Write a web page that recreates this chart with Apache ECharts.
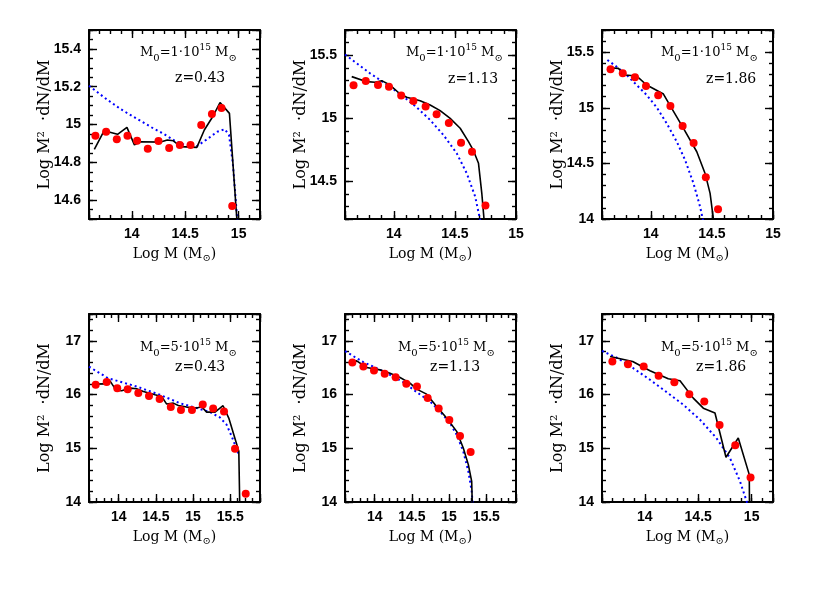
<!DOCTYPE html>
<html><head><meta charset="utf-8">
<script src="https://cdn.jsdelivr.net/npm/echarts@6/dist/echarts.min.js"></script>
<style>html,body{margin:0;padding:0;background:#fff}#c{width:817px;height:599px}</style>
</head><body><div id="c"></div>
<script>
// ---------- DATA ----------
// tick labels
const xTicksShort = [14, 14.5, 15];
const xTicksLong = [14, 14.5, 15, 15.5];
const yTicksP1 = [14.6, 14.8, 15, 15.2, 15.4];
const yTicksP2 = [14.5, 15, 15.5];
const yTicksP3 = [14, 14.5, 15, 15.5];
const yTicksBottom = [14, 15, 16, 17];

// Panel 1: M0=1e15, z=0.43
const p1PtsX = [13.66,13.76,13.86,13.96,14.05,14.15,14.25,14.35,14.45,14.55,14.65,14.75,14.84,14.94];
const p1PtsY = [14.941,14.962,14.922,14.941,14.914,14.872,14.913,14.876,14.892,14.892,14.997,15.056,15.087,14.569];
const p1LineX = [13.65,13.742,13.867,13.955,14.025,14.081,14.27,14.333,14.389,14.458,14.609,14.679,14.757,14.826,14.914,14.984];
const p1LineY = [14.869,14.967,14.948,14.985,14.892,14.909,14.907,14.918,14.914,14.883,14.879,14.971,15.041,15.116,15.059,14.495];
const p1FitX = [13.6,13.75,13.9,14.05,14.2,14.3,14.4,14.5,14.6,14.7,14.8,14.87,14.91,14.945,14.968,14.987];
const p1FitY = [15.205,15.14,15.08,15.03,14.98,14.95,14.915,14.89,14.882,14.92,14.962,14.975,14.945,14.8,14.636,14.495];

// Panel 2: M0=1e15, z=1.13
const p2PtsX = [13.67,13.77,13.87,13.96,14.06,14.16,14.26,14.35,14.45,14.55,14.64,14.75];
const p2PtsY = [15.261,15.295,15.263,15.25,15.181,15.136,15.092,15.031,14.962,14.806,14.734,14.308];
const p2LineX = [13.655,13.778,13.846,13.9,13.969,14.051,14.105,14.215,14.297,14.379,14.461,14.543,14.611,14.652,14.693,14.72,14.739];
const p2LineY = [15.33,15.29,15.285,15.298,15.263,15.192,15.166,15.139,15.105,15.06,14.999,14.92,14.814,14.742,14.642,14.404,14.19];
const p2FitX = [13.6,13.805,13.969,14.078,14.187,14.297,14.406,14.515,14.597,14.666,14.707];
const p2FitY = [15.505,15.356,15.25,15.171,15.086,14.986,14.867,14.721,14.562,14.377,14.19];

// Panel 3: M0=1e15, z=1.86
const p3PtsX = [13.67,13.77,13.87,13.96,14.06,14.16,14.26,14.35,14.45,14.55];
const p3PtsY = [15.346,15.31,15.274,15.196,15.112,15.016,14.836,14.683,14.375,14.087];
const p3LineX = [13.655,13.734,13.789,13.884,13.966,14.103,14.171,14.267,14.376,14.444,14.485,14.513];
const p3LineY = [15.36,15.355,15.295,15.286,15.205,15.124,14.995,14.815,14.605,14.41,14.23,13.99];
const p3FitX = [13.644,13.72,13.802,13.884,13.966,14.048,14.13,14.212,14.28,14.349,14.403,14.427];
const p3FitY = [15.43,15.37,15.295,15.205,15.115,15.004,14.86,14.696,14.531,14.321,14.111,13.99];

// Panel 4: M0=5e15, z=0.43
const p4PtsX = [13.69,13.838,13.98,14.12,14.263,14.407,14.55,14.70,14.837,14.985,15.13,15.27,15.416,15.564,15.708];
const p4PtsY = [16.182,16.232,16.12,16.10,16.027,15.972,15.916,15.768,15.712,15.712,15.816,15.742,15.686,14.993,14.153];
const p4LineX = [13.649,13.815,13.882,13.963,14.039,14.151,14.241,14.331,14.488,14.577,14.645,14.734,14.801,14.914,15.048,15.115,15.182,15.295,15.403,15.48,15.615,15.628];
const p4LineY = [16.194,16.2,16.256,16.083,16.07,16.12,16.107,16.058,15.996,15.965,15.823,15.841,15.798,15.767,15.749,15.773,15.674,15.674,15.792,15.563,14.944,13.9];
const p4FitX = [13.6,13.856,14.241,14.552,14.82,15.048,15.227,15.36,15.45,15.52,15.58,15.61];
const p4FitY = [16.52,16.305,16.15,15.996,15.841,15.749,15.674,15.575,15.44,15.22,15.006,14.9];

// Panel 5: M0=5e15, z=1.13
const p5PtsX = [13.699,13.847,13.99,14.134,14.281,14.425,14.568,14.712,14.86,15.003,15.147,15.29];
const p5PtsY = [16.596,16.522,16.448,16.386,16.324,16.2,16.151,15.934,15.742,15.526,15.229,14.932];
const p5LineX = [13.667,13.757,13.891,14.071,14.205,14.34,14.474,14.564,14.698,14.833,14.967,15.102,15.191,15.259,15.304,15.313];
const p5LineY = [16.615,16.627,16.504,16.46,16.398,16.318,16.213,16.101,16.008,15.779,15.563,15.315,15.005,14.696,14.384,13.9];
const p5FitX = [13.6,13.847,14.026,14.205,14.385,14.564,14.743,14.878,15.012,15.102,15.191,15.259,15.304,15.317];
const p5FitY = [16.81,16.603,16.491,16.368,16.232,16.046,15.872,15.687,15.47,15.253,14.944,14.573,14.2,13.96];

// Panel 6: M0=5e15, z=1.86
const p6PtsX = [13.697,13.843,13.99,14.13,14.277,14.417,14.557,14.70,14.847,14.99];
const p6PtsY = [16.615,16.566,16.522,16.349,16.231,16.008,15.872,15.433,15.055,14.455];
const p6LineX = [13.675,13.887,14.049,14.22,14.33,14.454,14.548,14.657,14.76,14.875,14.978,14.98];
const p6LineY = [16.708,16.615,16.442,16.293,16.256,15.934,15.747,15.656,14.833,15.192,14.51,13.9];
const p6FitX = [13.6,13.737,13.893,14.049,14.205,14.361,14.517,14.67,14.797,14.891,14.953,14.97];
const p6FitY = [16.813,16.689,16.491,16.275,16.046,15.81,15.532,15.192,14.82,14.387,14.015,13.9];

// annotation texts
const massLabels = ['1', '1', '1', '5', '5', '5'];
const zLabels = ['0.43', '1.13', '1.86', '0.43', '1.13', '1.86'];

// ---------- LAYOUT / STYLE ----------
const NUMFONT = 'Liberation Sans';
const TXTFONT = 'DejaVu Serif';
const zip = (a, b) => a.map((v, i) => [v, b[i]]);
const panels = [
  {grid: {left: 89, top: 30, width: 171, height: 189}, x: [13.6, 15.2], y: [14.5, 15.5], xt: xTicksShort, yt: yTicksP1, xM: 0.5, yM: 0.2, xm: 0.1, ym: 0.05,
   pts: [p1PtsX, p1PtsY], line: [p1LineX, p1LineY], fit: [p1FitX, p1FitY], ann: [[140, 53], [175, 78]]},
  {grid: {left: 345, top: 30, width: 171, height: 189}, x: [13.6, 15.0], y: [14.2, 15.7], xt: xTicksShort, yt: yTicksP2, xM: 0.5, yM: 0.5, xm: 0.1, ym: 0.1,
   pts: [p2PtsX, p2PtsY], line: [p2LineX, p2LineY], fit: [p2FitX, p2FitY], ann: [[406, 53], [448, 79]]},
  {grid: {left: 602, top: 30, width: 171, height: 189}, x: [13.6, 15.0], y: [14.0, 15.7], xt: xTicksShort, yt: yTicksP3, xM: 0.5, yM: 0.5, xm: 0.1, ym: 0.1,
   pts: [p3PtsX, p3PtsY], line: [p3LineX, p3LineY], fit: [p3FitX, p3FitY], ann: [[661, 53], [706, 79]]},
  {grid: {left: 89, top: 314, width: 171, height: 188}, x: [13.6, 15.9], y: [14, 17.5], xt: xTicksLong, yt: yTicksBottom, xM: 0.5, yM: 1, xm: 0.1, ym: 0.2,
   pts: [p4PtsX, p4PtsY], line: [p4LineX, p4LineY], fit: [p4FitX, p4FitY], ann: [[140, 348], [175, 367]]},
  {grid: {left: 345, top: 314, width: 171, height: 188}, x: [13.6, 15.9], y: [14, 17.5], xt: xTicksLong, yt: yTicksBottom, xM: 0.5, yM: 1, xm: 0.1, ym: 0.2,
   pts: [p5PtsX, p5PtsY], line: [p5LineX, p5LineY], fit: [p5FitX, p5FitY], ann: [[398, 348], [430, 367]]},
  {grid: {left: 602, top: 314, width: 171, height: 188}, x: [13.6, 15.2], y: [14, 17.5], xt: xTicksShort, yt: yTicksBottom, xM: 0.5, yM: 1, xm: 0.1, ym: 0.2,
   pts: [p6PtsX, p6PtsY], line: [p6LineX, p6LineY], fit: [p6FitX, p6FitY], ann: [[661, 348], [696, 367]]}
];

const grids = [], xAxes = [], yAxes = [], series = [], graphics = [];
const fmt = v => String(+(+v).toFixed(2));
const lineC = {color: '#000', width: 2};
const tickC = {color: '#000', width: 1.4};

panels.forEach((p, gi) => {
  grids.push(Object.assign({outerBoundsMode: 'none', containLabel: false}, p.grid));
  const xBase = {gridIndex: gi, type: 'value', min: p.x[0], max: p.x[1], splitLine: {show: false}, axisPointer: {show: false}};
  const yBase = {gridIndex: gi, type: 'value', min: p.y[0], max: p.y[1], splitLine: {show: false}, axisPointer: {show: false}};
  const xi = xAxes.length, yi = yAxes.length;
  // bottom major (with labels + name)
  xAxes.push(Object.assign({}, xBase, {
    position: 'bottom', minInterval: p.xM, maxInterval: p.xM,
    axisLine: {show: true, onZero: false, lineStyle: lineC},
    axisTick: {show: true, inside: true, length: 8, lineStyle: tickC},
    axisLabel: {show: true, customValues: p.xt, margin: 8, formatter: fmt, color: '#000', fontFamily: NUMFONT, fontSize: 14, fontWeight: 'bold'},
    name: 'Log M (M{s|⊙})', nameLocation: 'middle', nameGap: 26, nameMoveOverlap: false,
    nameTextStyle: {color: '#000', fontFamily: TXTFONT, fontSize: 14, lineHeight: 18,
      rich: {s: {color: '#000', fontFamily: TXTFONT, fontSize: 10, lineHeight: 10, verticalAlign: 'bottom'}}}
  }));
  // top major
  xAxes.push(Object.assign({}, xBase, {
    position: 'top', minInterval: p.xM, maxInterval: p.xM,
    axisLine: {show: true, onZero: false, lineStyle: lineC},
    axisTick: {show: true, inside: true, length: 8, lineStyle: tickC},
    axisLabel: {show: false}
  }));
  // minor bottom & top
  ['bottom', 'top'].forEach(pos => xAxes.push(Object.assign({}, xBase, {
    position: pos, minInterval: p.xm, maxInterval: p.xm,
    axisLine: {show: false, onZero: false},
    axisTick: {show: true, inside: true, length: 4, lineStyle: tickC},
    axisLabel: {show: false}
  })));
  // left major
  yAxes.push(Object.assign({}, yBase, {
    position: 'left', minInterval: p.yM, maxInterval: p.yM,
    axisLine: {show: true, onZero: false, lineStyle: lineC},
    axisTick: {show: true, inside: true, length: 8, lineStyle: tickC},
    axisLabel: {show: true, customValues: p.yt, margin: 8, formatter: fmt, color: '#000', fontFamily: NUMFONT, fontSize: 14, fontWeight: 'bold'},
    name: 'Log M²  ·dN/dM', nameLocation: 'middle', nameRotate: 90, nameGap: 36, nameMoveOverlap: false,
    nameTextStyle: {color: '#000', fontFamily: TXTFONT, fontSize: 16}
  }));
  yAxes.push(Object.assign({}, yBase, {
    position: 'right', minInterval: p.yM, maxInterval: p.yM,
    axisLine: {show: true, onZero: false, lineStyle: lineC},
    axisTick: {show: true, inside: true, length: 8, lineStyle: tickC},
    axisLabel: {show: false}
  }));
  ['left', 'right'].forEach(pos => yAxes.push(Object.assign({}, yBase, {
    position: pos, minInterval: p.ym, maxInterval: p.ym,
    axisLine: {show: false, onZero: false},
    axisTick: {show: true, inside: true, length: 4, lineStyle: tickC},
    axisLabel: {show: false}
  })));

  series.push({type: 'line', xAxisIndex: xi, yAxisIndex: yi, data: zip(p.fit[0], p.fit[1]), symbol: 'none', clip: true,
    lineStyle: {color: '#0000ff', width: 2, type: [2, 3]}, z: 1, silent: true});
  series.push({type: 'line', xAxisIndex: xi, yAxisIndex: yi, data: zip(p.line[0], p.line[1]), symbol: 'none', clip: true,
    lineStyle: {color: '#000', width: 1.6}, z: 2, silent: true});
  series.push({type: 'scatter', xAxisIndex: xi, yAxisIndex: yi, data: zip(p.pts[0], p.pts[1]), symbol: 'circle', symbolSize: 8,
    itemStyle: {color: '#ff0000', opacity: 1}, z: 3, silent: true});

  const rich = {
    m: {fill: '#000', fontFamily: TXTFONT, fontSize: 13, lineHeight: 20},
    z: {fill: '#000', fontFamily: TXTFONT, fontSize: 14, lineHeight: 20},
    s: {fill: '#000', fontFamily: TXTFONT, fontSize: 10, lineHeight: 10, verticalAlign: 'bottom'},
    p: {fill: '#000', fontFamily: TXTFONT, fontSize: 9, lineHeight: 10, verticalAlign: 'top'}
  };
  graphics.push({type: 'text', x: p.ann[0][0], y: p.ann[0][1], silent: true,
    style: {text: '{m|M}{s|0}{m|=' + massLabels[gi] + '·10}{p|15}{m| M}{s|⊙}', rich: rich, verticalAlign: 'middle', align: 'left'}});
  graphics.push({type: 'text', x: p.ann[1][0], y: p.ann[1][1], silent: true,
    style: {text: '{z|z=' + zLabels[gi] + '}', rich: rich, verticalAlign: 'middle', align: 'left'}});
});

const chart = echarts.init(document.getElementById('c'), null, {renderer: 'canvas'});
chart.setOption({
  animation: false,
  backgroundColor: '#fff',
  textStyle: {fontFamily: TXTFONT},
  grid: grids, xAxis: xAxes, yAxis: yAxes, series: series, graphic: graphics
});
</script></body></html>
